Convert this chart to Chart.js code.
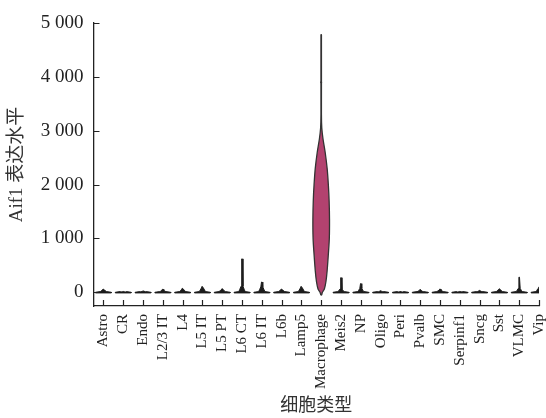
<!DOCTYPE html>
<html>
<head>
<meta charset="utf-8">
<script src="https://cdn.jsdelivr.net/npm/chart.js@4.4.1/dist/chart.umd.min.js"></script>
<style>
  body { margin: 0; background: #fff; }
  #wrap { width: 546px; height: 418px; }
</style>
</head>
<body>
<div id="wrap"><canvas id="violin-chart" width="546" height="418"></canvas></div>
<script>
// cell types along the x axis
var categories = ['Astro', 'CR', 'Endo', 'L2/3 IT', 'L4', 'L5 IT', 'L5 PT', 'L6 CT', 'L6 IT', 'L6b', 'Lamp5',
  'Macrophage', 'Meis2', 'NP', 'Oligo', 'Peri', 'Pvalb', 'SMC', 'Serpinf1', 'Sncg', 'Sst', 'VLMC', 'Vip'];

// small violins: height of the dense part and of the thin tail (max value)
var bumpTops  = [45, 10, 15, 40, 55, 80, 50, 110, 100, 45, 80, 0, 60, 70, 20, 10, 35, 45, 10, 25, 50, 70, 70];
var spikeTops = [60, 15, 25, 55, 75, 110, 65, 620, 190, 60, 110, 0, 270, 160, 30, 15, 50, 60, 15, 35, 65, 280, 95];

// the Macrophage violin: expression level and half width (fraction of a category)
var macroIndex = 11;
var macroLevels = [-50, 0, 60, 200, 400, 700, 1000, 1350, 1700, 2000, 2300, 2600, 2850, 3050, 3300, 4780];
var macroWidths = [0.02, 0.06, 0.16, 0.24, 0.30, 0.36, 0.41, 0.42, 0.40, 0.36, 0.30, 0.20, 0.09, 0.03, 0.012, 0.012];

// jittered cells drawn over the Macrophage violin
var macroDotOffsets = [-0.05, 0.10, -0.15, 0.20, 0.05, -0.20, 0.15, -0.10, 0.25, -0.25, 0.00, 0.12, -0.08, 0.18, -0.18, 0.06, -0.02, 0.22, -0.12, 0.08, 0.00, -0.06];
var macroDotValues  = [150, 320, 480, 650, 820, 950, 1100, 1230, 1380, 1500, 1640, 1780, 1900, 2050, 1200, 700, 2300, 1000, 1550, 2500, 3900, 2700];

var yTicks = [0, 1000, 2000, 3000, 4000, 5000];

var serif = "'Liberation Serif', 'Times New Roman', serif";
var titleFont = "'Liberation Serif', 'Noto Sans CJK SC', serif";

function violinPoints(i) {
  var levels, widths;
  if (i === macroIndex) {
    levels = macroLevels;
    widths = macroWidths;
  } else {
    levels = [-12, 0, 12, bumpTops[i] * 0.5, bumpTops[i], spikeTops[i]];
    widths = [0.40, 0.40, 0.16, 0.11, 0.05, 0.015];
  }
  var left = levels.map(function (v, k) { return { x: i - widths[k], y: v }; });
  var right = levels.map(function (v, k) { return { x: i + widths[k], y: v }; }).reverse();
  return left.concat(right, [left[0]]);
}

var datasets = categories.map(function (name, i) {
  var big = i === macroIndex;
  return {
    label: name,
    data: violinPoints(i),
    fill: 'shape',
    backgroundColor: big ? '#b3426f' : '#1c1c1c',
    borderColor: big ? '#333' : '#1c1c1c',
    borderWidth: big ? 1.3 : 1,
    pointRadius: 0,
    tension: big ? 0.3 : 0
  };
});

datasets.push({
  label: 'cells',
  data: macroDotValues.map(function (v, k) { return { x: macroIndex + macroDotOffsets[k], y: v }; }),
  showLine: false,
  pointRadius: 1,
  pointBackgroundColor: '#222',
  pointBorderWidth: 0
});

// tick marks pointing into the plot
var innerTicks = {
  id: 'innerTicks',
  afterDraw: function (chart) {
    var ctx = chart.ctx, xs = chart.scales.x, ys = chart.scales.y, a = chart.chartArea;
    ctx.save();
    ctx.strokeStyle = '#222';
    ctx.lineWidth = 1.2;
    ctx.beginPath();
    ys.ticks.forEach(function (t) {
      var y = Math.round(ys.getPixelForValue(t.value)) + 0.5;
      ctx.moveTo(a.left, y);
      ctx.lineTo(a.left + 6, y);
    });
    xs.ticks.forEach(function (t) {
      var x = Math.round(xs.getPixelForValue(t.value)) + 0.5;
      ctx.moveTo(x, a.bottom);
      ctx.lineTo(x, a.bottom - 6);
    });
    ctx.stroke();
    ctx.restore();
  }
};

new Chart(document.getElementById('violin-chart'), {
  type: 'line',
  data: { datasets: datasets },
  plugins: [innerTicks],
  options: {
    responsive: false,
    animation: false,
    layout: { padding: { top: 23, right: 7, left: 0, bottom: 0 } },
    plugins: { legend: { display: false }, tooltip: { enabled: false } },
    scales: {
      x: {
        type: 'linear',
        min: -0.5,
        max: 22,
        afterBuildTicks: function (scale) {
          scale.ticks = categories.map(function (c, i) { return { value: i }; });
        },
        afterFit: function (scale) {
          scale.height = 112;
          scale.paddingLeft = 0;
          scale.paddingRight = 0;
        },
        grid: { display: false, drawTicks: false },
        border: { display: true, color: '#222', width: 1.3 },
        ticks: {
          autoSkip: false,
          minRotation: 90,
          maxRotation: 90,
          padding: 8,
          color: '#222',
          font: { family: serif, size: 15 },
          callback: function (v) { return categories[v]; }
        },
        title: {
          display: true,
          text: '细胞类型',
          color: '#333',
          font: { family: titleFont, size: 18, lineHeight: 1.2 },
          padding: { top: 0, bottom: 1 }
        }
      },
      y: {
        min: -255,
        max: 5000,
        afterBuildTicks: function (scale) {
          scale.ticks = yTicks.map(function (v) { return { value: v }; });
        },
        afterFit: function (scale) {
          scale.width = 93.5;
          scale.paddingTop = 0;
          scale.paddingBottom = 0;
        },
        grid: { display: false, drawTicks: false },
        border: { display: true, color: '#222', width: 1.3 },
        ticks: {
          padding: 10,
          color: '#222',
          font: { family: serif, size: 19 },
          callback: function (v) { return String(v).replace(/\B(?=(\d{3})+(?!\d))/g, ' '); }
        },
        title: {
          display: true,
          text: 'Aif1 表达水平',
          color: '#333',
          font: { family: titleFont, size: 19, lineHeight: 1.2 },
          padding: { top: 6, bottom: 0 }
        }
      }
    }
  }
});
</script>
</body>
</html>
